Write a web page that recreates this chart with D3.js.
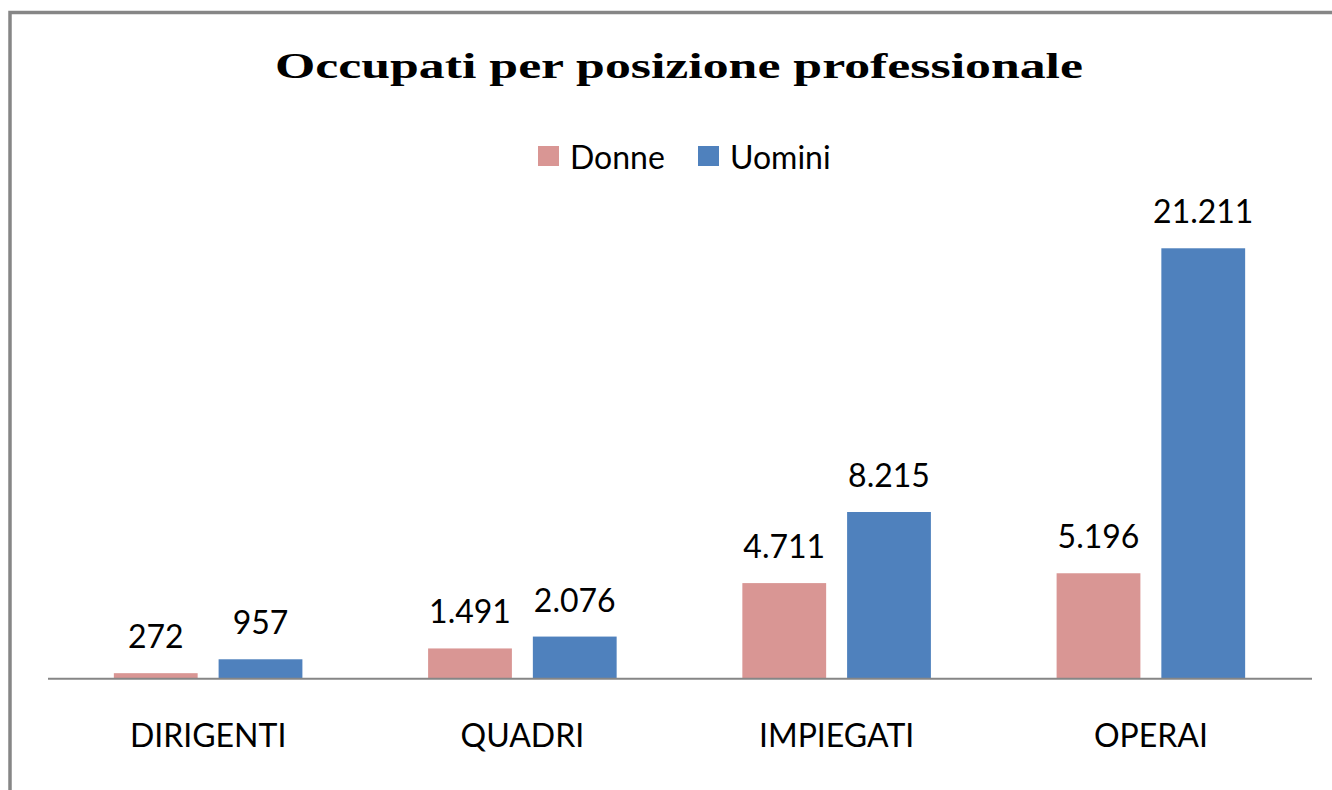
<!DOCTYPE html>
<html>
<head>
<meta charset="utf-8">
<script src="https://cdn.jsdelivr.net/npm/d3@7"></script>
<style>
  html, body { margin: 0; padding: 0; background: #fff; }
  svg { display: block; }
</style>
</head>
<body>
<svg id="chart" width="1332" height="790"></svg>
<script>
const title = "Occupati per posizione professionale";
const categories = ["DIRIGENTI", "QUADRI", "IMPIEGATI", "OPERAI"];
const seriesNames = ["Donne", "Uomini"];
const donne = [272, 1491, 4711, 5196];
const uomini = [957, 2076, 8215, 21211];
const seriesColors = ["#D99694", "#4F81BD"];
const yMax = 25000;

const values = [donne, uomini];
const fmt = v => d3.format(",")(v).replace(/,/g, ".");

const svg = d3.select("#chart");

// outer border (extends beyond the visible window on the right and bottom)
svg.append("rect")
  .attr("x", 10).attr("y", 12.5)
  .attr("width", 1400).attr("height", 900)
  .attr("fill", "none").attr("stroke", "#868686").attr("stroke-width", 3.5);

const baseline = 678.7;
const x0 = d3.scaleBand().domain(categories).range([51, 1308]).paddingInner(0.4).paddingOuter(0.2);
const x1 = d3.scaleBand().domain(seriesNames).range([0, x0.bandwidth()]).paddingInner(0.2).paddingOuter(0);
const y = d3.scaleLinear().domain([0, yMax]).range([baseline, 171.4]);

// title
svg.append("text")
  .attr("x", 679).attr("y", 78)
  .attr("text-anchor", "middle")
  .attr("font-family", "'Liberation Serif', 'Times New Roman', serif")
  .attr("font-weight", "bold")
  .attr("font-size", 35)
  .attr("textLength", 808)
  .attr("lengthAdjust", "spacingAndGlyphs")
  .attr("fill", "#000")
  .text(title);

// legend
const legendItems = [
  { name: seriesNames[0], color: seriesColors[0], x: 538 },
  { name: seriesNames[1], color: seriesColors[1], x: 698 }
];
const lg = svg.append("g");
legendItems.forEach(it => {
  lg.append("rect").attr("x", it.x).attr("y", 146).attr("width", 21).attr("height", 20).attr("fill", it.color);
  lg.append("text").attr("x", it.x + 32).attr("y", 169)
    .attr("font-family", "Lato, 'Open Sans', sans-serif").attr("font-size", 32).attr("fill", "#000")
    .text(it.name);
});

// bars
const groups = svg.append("g").selectAll("g")
  .data(categories)
  .join("g")
  .attr("transform", d => `translate(${x0(d)},0)`);

groups.selectAll("rect")
  .data((d, i) => seriesNames.map((s, j) => ({ s, v: values[j][i], c: seriesColors[j] })))
  .join("rect")
  .attr("x", d => x1(d.s))
  .attr("y", d => y(d.v))
  .attr("width", x1.bandwidth())
  .attr("height", d => baseline - y(d.v))
  .attr("fill", d => d.c);

groups.selectAll("text.val")
  .data((d, i) => seriesNames.map((s, j) => ({ s, v: values[j][i] })))
  .join("text")
  .attr("class", "val")
  .attr("x", d => x1(d.s) + x1.bandwidth() / 2)
  .attr("y", d => y(d.v) - 25)
  .attr("text-anchor", "middle")
  .attr("font-family", "Lato, 'Open Sans', sans-serif")
  .attr("font-size", 32)
  .attr("fill", "#000")
  .text(d => fmt(d.v));

// x axis line
svg.append("line")
  .attr("x1", 48).attr("x2", 1312)
  .attr("y1", baseline).attr("y2", baseline)
  .attr("stroke", "#868686").attr("stroke-width", 2);

// category labels
svg.append("g").selectAll("text")
  .data(categories)
  .join("text")
  .attr("x", d => x0(d) + x0.bandwidth() / 2)
  .attr("y", 747)
  .attr("text-anchor", "middle")
  .attr("font-family", "Lato, 'Open Sans', sans-serif")
  .attr("font-size", 32)
  .attr("fill", "#000")
  .text(d => d);
</script>
</body>
</html>
